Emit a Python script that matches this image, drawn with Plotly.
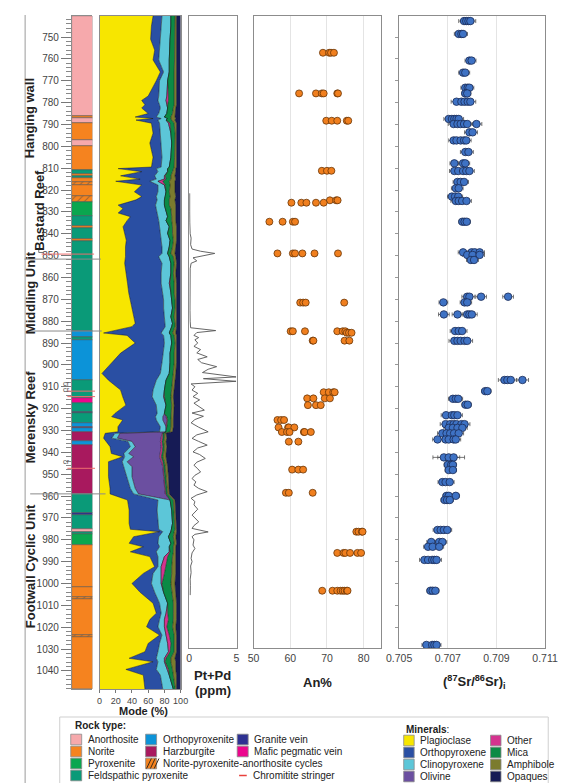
import plotly.graph_objects as go

W, H = 566, 783
def px(x): return x / W
def py(y): return 1 - y / H

FONT = "Liberation Sans, Arial, sans-serif"

# ---------------- Stratigraphic column ----------------
layer_top = [740.4, 786.0, 787.0, 789.4, 797.3, 799.7, 810.8, 812.5, 813.8, 814.5, 816.2, 817.8,
             822.8, 825.3, 831.9, 836.5, 837.3, 842.5, 843.5, 884.5, 887.2, 888.8, 906.9, 915.3,
             917.6, 921.4, 922.2, 926.7, 928.3, 929.0, 930.6, 934.7, 936.7, 959.0, 967.6, 968.6,
             975.1, 976.5, 977.4, 982.4, 1001.4, 1006.0, 1007.3, 1023.6, 1024.6]
layer_bot = [786.0, 787.0, 789.4, 797.3, 799.7, 810.8, 812.5, 813.8, 814.5, 816.2, 817.8, 822.8,
             825.3, 831.9, 836.5, 837.3, 842.5, 843.5, 884.5, 887.2, 888.8, 906.9, 915.3, 917.6,
             921.4, 922.2, 926.7, 928.3, 929.0, 930.6, 934.7, 936.7, 959.0, 967.6, 968.6, 975.1,
             976.5, 977.4, 982.4, 1001.4, 1006.0, 1007.3, 1023.6, 1024.6, 1048.3]
layer_type = ["Anorthosite", "Norite", "Anorthosite", "Norite", "Anorthosite", "Norite",
              "Feldspathic pyroxenite", "Norite", "Feldspathic pyroxenite", "Norite", "Cycles", "Norite",
              "Cycles", "Pyroxenite", "Feldspathic pyroxenite", "Norite", "Feldspathic pyroxenite", "Norite",
              "Feldspathic pyroxenite", "Orthopyroxenite", "Feldspathic pyroxenite", "Orthopyroxenite",
              "Feldspathic pyroxenite", "Mafic pegmatic vein", "Feldspathic pyroxenite", "Granite vein",
              "Feldspathic pyroxenite", "Orthopyroxenite", "Harzburgite", "Orthopyroxenite", "Harzburgite",
              "Orthopyroxenite", "Harzburgite", "Feldspathic pyroxenite", "Granite vein",
              "Feldspathic pyroxenite", "Anorthosite", "Feldspathic pyroxenite", "Pyroxenite", "Norite",
              "Norite", "Cycles", "Norite", "Cycles", "Norite"]
rock_colors = {"Anorthosite": "#F6A9AC", "Norite": "#F5831F", "Pyroxenite": "#0AA64F",
               "Feldspathic pyroxenite": "#0A9A78", "Orthopyroxenite": "#0C93D8",
               "Harzburgite": "#A8195E", "Granite vein": "#2E3192", "Mafic pegmatic vein": "#EC068D",
               "Cycles": "#F5831F"}

chromitite_depth = [849.3, 912.0, 914.5, 947.3]
unit_names = ["Hanging wall", "Bastard Reef", "Middling Unit", "Merensky Reef", "Footwall Cyclic Unit"]
unit_boundaries = [851.6, 884.5, 959.0]

# ---------------- Modal mineralogy ----------------
mode_depth = [740.4, 745, 751, 756, 760.5, 766, 770, 777, 779, 781, 782.5, 785, 786.6, 787.3, 788,
              789.4, 794, 798.5, 805, 809.5, 810.2, 811.6, 813.5, 815, 816, 817.7, 820.8, 823, 824.5,
              826.9, 828.5, 830.5, 832.2, 834, 836.8, 839.8, 843, 846, 849, 850.5, 853.5, 858, 862.6,
              867, 870.3, 874, 878, 881, 882.5, 885.4, 886.5, 890, 894.6, 899, 903.9, 907, 911.5,
              914.6, 918.4, 922.2, 923.7, 925.2, 928.3, 930.6, 931.3, 933.5, 935, 937.4, 940.5, 942,
              944.3, 946.6, 951.1, 956.5, 959, 961.8, 966.4, 972.5, 975.2, 976.3, 978.6, 981.6, 983.2,
              985.5, 987.7, 992.3, 995.4, 1000, 1004, 1009, 1013.6, 1016.5, 1019.8, 1023.6, 1027.4,
              1031.2, 1034.2, 1035.8, 1039.3, 1041.9, 1048.3]
plagioclase = [66, 64, 63, 68, 66, 75, 70, 60, 52, 56, 52, 60, 44, 66, 45, 64, 66, 62, 66, 64, 23, 52,
               26, 50, 20, 52, 43, 52, 45, 23, 29, 23, 38, 34, 29, 31, 33, 32, 32, 32, 31, 33, 34.5, 36,
               38, 40, 42, 44, 40, 5, 34, 44, 26, 15, 3, 11, 26, 28.6, 32.5, 19, 15, 28.6, 22.7, 22.7,
               7, 5, 8, 13, 14.6, 28.6, 11, 11, 11, 13, 13, 34.5, 36.5, 36.5, 38, 74, 42, 36.5, 54, 38,
               62, 68, 54, 40, 50, 66, 70, 62, 58, 74, 60, 56, 36.5, 66, 32.5, 54, 56]
orthopyroxene = [11, 12, 12, 6, 7, 4, 4, 13, 20, 18, 23, 13, 26, 10, 27, 10, 9, 14, 11, 12, 47, 20,
                 42, 20, 42, 20, 29, 18, 26, 46, 41, 48, 34, 39, 45, 44, 43, 45, 45, 41, 46, 43, 41.5,
                 42, 41, 39, 38, 37, 41, 71, 45, 36, 52, 62, 72, 59, 40, 36.4, 37.5, 52, 54, 41.4, 52.3,
                 51.3, 12, 10, 27, 25, 15.4, 2.4, 17, 19, 22, 25, 29, 37.5, 34.5, 35.5, 35, 4, 31, 35.5,
                 20, 32, 10, 4, 12, 24, 18, 8, 6, 12, 14, 3, 14, 16, 33.5, 6, 37.5, 21, 22]
clinopyroxene = [11, 12, 12, 12, 13, 7, 10, 10, 10, 9, 9, 10, 10, 8, 10, 11, 13, 13, 11, 10, 14, 12,
                 12, 10, 10, 8, 10, 11, 9, 11, 11, 12, 12, 9, 12, 9, 11, 9, 7, 13, 11, 12, 10, 10, 10,
                 11, 8, 9, 8, 10, 9, 9, 9, 10, 11, 12, 14, 14, 12, 9, 9, 8, 7, 8, 6, 7, 5, 6, 6, 11, 6,
                 10, 7, 6, 6, 15, 18, 18, 16, 10, 12, 16, 12, 16, 8, 4, 10, 12, 11, 10, 6, 6, 8, 5, 10,
                 13, 10, 8, 14, 11, 13]
olivine = [0] * 60 + [4, 5, 0, 0, 52, 54, 35, 32, 39, 32, 42, 38, 39, 37, 33] + [0] * 26
other = [0, 0, 0, 0, 0, 0, 0, 2, 3, 1, 0, 0, 0, 0, 0, 2, 0, 0, 0, 0, 0, 0, 1, 2, 6, 1, 0, 0, 0, 0, 0,
         0, 0, 0, 0, 0, 0, 0, 0, 0, 0, 0, 1, 0, 0, 0, 0, 0, 0, 0, 0, 0, 0, 0, 0, 0, 0, 1, 0, 0, 1, 1,
         1, 0, 1, 2, 2, 2, 2, 2, 2, 1, 1, 1, 1, 0, 0, 0, 0, 0, 0, 0, 0, 1, 4, 6, 4, 1, 0, 0, 2, 5, 3,
         4, 4, 2, 2, 1, 1, 0, 0]
mica = [5, 5, 6, 6.5, 6.5, 6, 8, 7, 7, 8, 7, 7, 8, 4, 7, 5, 5, 4, 4.5, 6, 7, 6, 7, 6, 8, 6, 4, 6, 6,
        6, 7, 6, 5, 7, 4, 6, 4, 4, 4, 5, 4, 3, 5, 4, 4, 3, 4, 3, 4, 4, 4, 4, 5, 5, 5, 8, 9, 8, 7, 8, 5,
        4, 5, 5, 2, 2, 2, 2, 2, 2, 2, 2, 2, 2, 2, 4, 3, 3, 4, 4, 6, 4, 5, 4, 6, 7, 9, 11, 10, 7, 7, 6,
        7, 6, 4, 5, 6, 7, 5, 5, 2.5]
amphibole = [2, 2, 2, 2.5, 2.5, 3, 3, 3, 3, 3, 3, 3, 5, 6, 4, 3, 2, 2, 2.5, 3, 3, 4, 5, 6, 7, 6, 7, 7,
             7, 8, 6, 5, 5, 5, 5, 5, 4, 4, 5, 3, 3, 3, 3, 3, 2, 2, 3, 2, 2, 4, 3, 2, 3, 3, 3, 3, 3, 3,
             3, 3, 3, 3, 3, 3, 2, 3, 3, 3, 3, 4, 3, 3, 3, 2, 2, 2, 2, 2, 2, 3, 3, 3, 3, 3, 4, 5, 5, 5,
             5, 4, 4, 4, 4, 3, 3, 3, 5, 6, 4, 4, 1.5]
opaques = [5, 5, 5, 5, 5, 5, 5, 5, 5, 5, 6, 7, 7, 6, 7, 5, 5, 5, 5, 5, 6, 6, 7, 6, 7, 7, 7, 6, 7, 6,
           6, 6, 6, 6, 5, 5, 5, 6, 7, 6, 5, 6, 5, 5, 5, 5, 5, 5, 5, 6, 5, 5, 5, 5, 6, 7, 8, 9, 8, 9, 9,
           9, 9, 10, 18, 17, 18, 17, 18, 18, 17, 16, 15, 14, 14, 7, 6, 5, 5, 5, 6, 5, 6, 6, 6, 6, 6, 7,
           6, 5, 5, 5, 6, 5, 5, 5, 7, 6, 6, 5, 5]
minerals = ["Plagioclase", "Orthopyroxene", "Clinopyroxene", "Olivine", "Other", "Mica", "Amphibole", "Opaques"]
mineral_values = [plagioclase, orthopyroxene, clinopyroxene, olivine, other, mica, amphibole, opaques]
mineral_colors = ["#F7E600", "#2A4FA3", "#5CC6D8", "#6B4FA0", "#D4338F", "#0B8A45", "#7B7B2E", "#161B55"]

# ---------------- Pt+Pd ----------------
ptpd_depth = [821.5, 826, 830, 835, 840, 842, 845, 847, 848, 849, 850, 851, 852.4, 853.5, 856, 860, 865,
              870, 875, 880, 883, 884.3, 885.2, 886.5, 887.5, 888.5, 890, 891.5, 893, 894.5, 896.3,
              897.5, 899, 900.8, 902, 903.5, 905.5, 906.3, 907.5, 908.7, 910, 911.5, 913, 914.5, 916,
              917.5, 919, 920.7, 922, 923.5, 925, 926.5, 928.5, 930.6, 932, 933.6, 935, 936.7, 938,
              939.8, 941, 942.8, 944.5, 945.9, 947.5, 949, 950.5, 952, 953.5, 955, 956.5, 958, 959.5,
              961, 962.5, 964, 966, 968.7, 970, 971.8, 973.5, 974.8, 976.4, 977.5, 978.6, 980, 982.4,
              984, 986, 988.5, 990, 992, 995, 998, 1001, 1003, 1005.3]
ptpd = [0.05, 0.08, 0.05, 0.06, 0.1, 0.2, 0.15, 0.3, 1.2, 2.7, 1.5, 0.4, 0.8, 0.2, 0.1, 0.08, 0.1,
        0.05, 0.08, 0.1, 0.15, 2.8, 0.8, 0.5, 1.0, 0.6, 0.9, 0.5, 1.2, 0.8, 1.9, 0.9, 1.3, 2.9, 2.0,
        1.4, 4.95, 1.5, 4.95, 0.2, 0.6, 0.3, 0.9, 0.4, 1.1, 0.5, 1.0, 1.6, 0.3, 1.5, 0.6, 0.2, 1.0,
        2.0, 0.8, 0.3, 1.0, 1.9, 0.9, 0.4, 1.1, 1.7, 0.8, 0.5, 0.9, 1.2, 0.6, 0.3, 0.7, 0.5, 1.0, 1.9,
        0.8, 0.2, 0.6, 0.5, 0.9, 0.3, 0.6, 1.0, 0.5, 0.3, 2.0, 0.6, 0.3, 0.5, 0.4, 0.6, 0.3, 0.2, 0.3,
        0.15, 0.2, 0.1, 0.12, 0.08, 0.1]

# ---------------- An% ----------------
an_group_depth = [757.2, 775.8, 788.3, 811.2, 824.7, 825.8, 834.5, 849.0, 871.5, 884.6, 885.3, 888.9,
                  912.5, 915.3, 918.4, 925.2, 928.6, 930.7, 935.1, 947.9, 958.5, 976.3, 986.0, 1003.3]
an_group_values = [[68.9, 70.6, 71.1, 71.9], [62.4, 67.0, 68.6, 69.1, 72.8, 73.0],
                   [69.8, 71.3, 72.8, 75.4, 75.8], [68.6, 70.0, 71.2], [70.8, 72.5, 72.9],
                   [60.3, 63.0, 64.4, 67.0, 69.1], [54.3, 57.9, 60.7, 61.3],
                   [56.5, 60.7, 61.3, 63.3, 66.6, 73.0], [62.7, 63.5, 64.2, 74.7],
                   [60.1, 60.7, 64.0, 72.8, 74.3, 75.0], [75.4, 76.0, 76.7], [66.1, 66.3, 74.8, 76.1],
                   [69.1, 70.5, 71.7, 72.1], [64.6, 66.3, 69.4, 70.8], [64.8, 67.0, 68.3],
                   [56.5, 57.5, 58.3], [56.8, 59.4, 59.6, 61.1], [57.7, 59.1, 59.8, 63.7, 63.9, 65.6],
                   [59.6, 62.2], [60.5, 62.2, 63.5], [58.8, 59.6, 66.1], [78.0, 78.6, 79.5, 79.7],
                   [72.8, 74.5, 75.0, 76.3, 78.3, 79.3], [68.7, 71.5, 72.8, 73.7, 74.3, 74.8, 75.4, 75.6]]

# ---------------- (87Sr/86Sr)i ----------------
sr_group_depth = [742.7, 748.6, 760.8, 766.3, 773.2, 775.8, 779.6, 787.5, 789.8, 793.6, 797.3, 802.6,
                  807.8, 811.3, 816.3, 819.2, 823.0, 825.0, 834.5, 848.5, 849.7, 852.0, 868.8, 871.4,
                  876.9, 884.5, 889.0, 906.9, 912.0, 915.5, 918.2, 923.0, 927.1, 928.8, 931.3, 934.1,
                  942.3, 945.7, 948.1, 953.6, 959.9, 961.8, 975.5, 981.0, 983.2, 989.2, 1003.3, 1028.1]
sr_group_values = [[0.70767, 0.70776, 0.70785, 0.70793], [0.70745, 0.70756, 0.70763], [0.70789, 0.70798],
                   [0.70763, 0.70772], [0.70772, 0.70782, 0.70789], [0.70772, 0.70780],
                   [0.70736, 0.70756, 0.70769, 0.70782, 0.70793],
                   [0.70704, 0.70717, 0.70727, 0.70736, 0.70745],
                   [0.70724, 0.70740, 0.70753, 0.70767, 0.70780, 0.70818], [0.70789, 0.70802],
                   [0.70724, 0.70736, 0.70753, 0.70767, 0.70776], [0.70772, 0.70785],
                   [0.70727, 0.70763, 0.70772], [0.70727, 0.70743, 0.70763, 0.70776, 0.70789],
                   [0.70740, 0.70753, 0.70767], [0.70733, 0.70745], [0.70717, 0.70730, 0.70743],
                   [0.70733, 0.70745, 0.70759, 0.70777], [0.70760, 0.70769, 0.70778],
                   [0.70763, 0.70798, 0.70811, 0.70831], [0.70780, 0.70802, 0.70831], [0.70795, 0.70808],
                   [0.70780, 0.70789, 0.70837, 0.70948], [0.70682, 0.70769, 0.70780],
                   [0.70684, 0.70740, 0.70780, 0.70789, 0.70799], [0.70730, 0.70745, 0.70759],
                   [0.70727, 0.70740, 0.70753, 0.70769, 0.70780], [0.70933, 0.70945, 0.70959, 0.71007],
                   [0.70854, 0.70863], [0.70721, 0.70733, 0.70743], [0.70773, 0.70782],
                   [0.70693, 0.70717, 0.70727, 0.70740],
                   [0.70691, 0.70710, 0.70724, 0.70736, 0.70756, 0.70769],
                   [0.70704, 0.70721, 0.70740, 0.70760], [0.70678, 0.70695, 0.70710, 0.70726, 0.70745],
                   [0.70658, 0.70691, 0.70704, 0.70724, 0.70733], [0.70684, 0.70704, 0.70724],
                   [0.70700, 0.70714, 0.70721], [0.70704, 0.70721], [0.70678, 0.70691, 0.70708],
                   [0.70695, 0.70704, 0.70733], [0.70687, 0.70697, 0.70708],
                   [0.70658, 0.70671, 0.70684, 0.70698], [0.70632, 0.70665, 0.70678],
                   [0.70619, 0.70638, 0.70665], [0.70604, 0.70619, 0.70636, 0.70645, 0.70654],
                   [0.70629, 0.70638, 0.70649], [0.70612, 0.70636, 0.70645, 0.70654]]
sr_group_err = [0.00022, 0.00018, 0.00018, 0.00018, 0.00018, 0.00015, 0.00022, 0.0002, 0.00022, 0.0002,
                0.0002, 0.0002, 0.00018, 0.0002, 0.00018, 0.00018, 0.00018, 0.0002, 0.00015, 0.0002,
                0.0002, 0.00018, 0.00022, 0.00018, 0.00022, 0.0002, 0.00022, 0.00025, 0.00015, 0.00018,
                0.00015, 0.0002, 0.00022, 0.0002, 0.0002, 0.0002, 0.00045, 0.00015, 0.00015, 0.00018,
                0.00015, 0.00015, 0.00018, 0.00018, 0.00018, 0.0002, 0.00015, 0.00018]

# ---------------- Build figure ----------------
fig = go.Figure()

# strat column
thick = [b - t for t, b in zip(layer_top, layer_bot)]
fig.add_trace(go.Bar(
    x=[0.5] * len(layer_top), y=thick, base=layer_top, width=1,
    marker=dict(color=[rock_colors[t] for t in layer_type],
                line=dict(color="#4a4a4a", width=0.5),
                pattern=dict(shape=["/" if t == "Cycles" else "" for t in layer_type],
                             fgcolor="#3a2a1a", bgcolor="#F5831F", size=5, solidity=0.2)),
    xaxis="x", yaxis="y", hoverinfo="skip"))

# mode stacked areas
cum = [0.0] * len(mode_depth)
for i, (name, vals, col) in enumerate(zip(minerals, mineral_values, mineral_colors)):
    cum = [c + v for c, v in zip(cum, vals)]
    fig.add_trace(go.Scatter(
        x=cum, y=mode_depth, mode="lines", name=name,
        fill="tozerox" if i == 0 else "tonextx", fillcolor=col,
        line=dict(color="#151515", width=0.5), xaxis="x2", yaxis="y2", hoverinfo="skip"))

# Pt+Pd
fig.add_trace(go.Scatter(x=ptpd, y=ptpd_depth, mode="lines",
                         line=dict(color="#555555", width=0.9), xaxis="x3", yaxis="y3"))

# An%
an_x, an_y = [], []
for d, vals in zip(an_group_depth, an_group_values):
    for v in vals:
        an_x.append(v); an_y.append(d)
fig.add_trace(go.Scatter(x=an_x, y=an_y, mode="markers",
                         marker=dict(size=7, color="#F07F1E", line=dict(color="#6a3608", width=0.8)),
                         xaxis="x4", yaxis="y4"))

# Sr
sr_x, sr_y, sr_e = [], [], []
for d, vals, e in zip(sr_group_depth, sr_group_values, sr_group_err):
    for v in vals:
        sr_x.append(v); sr_y.append(d); sr_e.append(e)
fig.add_trace(go.Scatter(x=sr_x, y=sr_y, mode="markers",
                         error_x=dict(type="data", array=sr_e, color="#555555", thickness=0.8, width=2),
                         marker=dict(size=7.5, color="#3E72C4", line=dict(color="#1b2b55", width=0.8)),
                         xaxis="x5", yaxis="y5"))

LINEC = "#8c8c8c"
left_dom = [py(689), py(16)]
right_dom = [py(648), py(16)]
left_rng = [1048.26, 740.39]
right_rng = [1029.5, 740.39]
tickf = dict(family=FONT, size=10.5, color="#444")

fig.update_layout(
    width=W, height=H, margin=dict(l=0, r=0, t=0, b=0),
    paper_bgcolor="white", plot_bgcolor="white", showlegend=False,
    font=dict(family=FONT, color="#222"),
    bargap=0,
    xaxis=dict(domain=[px(61.7), px(83.3)], range=[0, 1], showticklabels=False, ticks="",
               showgrid=False, zeroline=False, showline=True, mirror=True, linecolor=LINEC, anchor="y"),
    yaxis=dict(domain=left_dom, range=left_rng, tickmode="linear", tick0=750, dtick=10,
               ticks="outside", ticklen=10, tickcolor="#777", tickwidth=1,
               tickfont=dict(family=FONT, size=10, color="#444"),
               minor=dict(ticks="outside", ticklen=5, dtick=2, tickcolor="#888", tickwidth=0.8),
               showgrid=False, zeroline=False, showline=True, linecolor=LINEC, anchor="x"),
    xaxis2=dict(domain=[px(90.7), px(175.7)], range=[0, 100], tickvals=[0, 20, 40, 60, 80, 100],
                ticks="outside", ticklen=3, tickcolor="#777",
                tickfont=dict(family=FONT, size=9, color="#444"),
                showgrid=False, zeroline=False, showline=True, mirror=True, linecolor=LINEC, anchor="y2"),
    yaxis2=dict(domain=left_dom, range=left_rng, showticklabels=False, ticks="", showgrid=False,
                zeroline=False, showline=True, mirror=True, linecolor=LINEC, anchor="x2"),
    xaxis3=dict(domain=[px(184.7), px(234.3)], range=[0, 5], tickvals=[0, 5], ticks="",
                tickfont=tickf, showgrid=False, zeroline=False, showline=True, mirror=True,
                linecolor=LINEC, anchor="y3"),
    yaxis3=dict(domain=right_dom, range=right_rng, showticklabels=False, ticks="", showgrid=False,
                zeroline=False, showline=True, mirror=True, linecolor=LINEC, anchor="x3"),
    xaxis4=dict(domain=[px(252.2), px(386)], range=[50, 84.8], tickvals=[50, 60, 70, 80], ticks="",
                tickfont=tickf, showgrid=True, gridcolor="#e4e4e4", gridwidth=1, zeroline=False,
                showline=True, mirror=True, linecolor=LINEC, anchor="y4"),
    yaxis4=dict(domain=right_dom, range=right_rng, showticklabels=False, ticks="", showgrid=False,
                zeroline=False, showline=True, mirror=True, linecolor=LINEC, anchor="x4"),
    xaxis5=dict(domain=[px(404.7), px(557.7)], range=[0.705, 0.711],
                tickvals=[0.705, 0.707, 0.709, 0.711], ticktext=["0.705", "0.707", "0.709", "0.711"],
                ticks="", tickfont=tickf, showgrid=True, gridcolor="#e4e4e4", gridwidth=1,
                zeroline=False, showline=True, mirror=True, linecolor=LINEC, anchor="y5"),
    yaxis5=dict(domain=right_dom, range=right_rng, showticklabels=False, tickmode="linear",
                tick0=750, dtick=10, ticks="outside", ticklen=3, tickcolor="#999", showgrid=False,
                zeroline=False, showline=True, mirror=True, linecolor=LINEC, anchor="x5"),
)

shapes = []
annots = []

def ann(x, y, text, size=10, color="#222", xanchor="center", yanchor="middle", angle=0, **kw):
    annots.append(dict(x=px(x), y=py(y), xref="paper", yref="paper", text=text, showarrow=False,
                       xanchor=xanchor, yanchor=yanchor, textangle=angle,
                       font=dict(family=FONT, size=size, color=color), **kw))

def rect(x0, y0, x1, y1, fill, line="#8a8a8a", lw=0.8):
    shapes.append(dict(type="rect", xref="paper", yref="paper", x0=px(x0), x1=px(x1),
                       y0=py(y1), y1=py(y0), fillcolor=fill, line=dict(color=line, width=lw)))

def seg(x0, y0, x1, y1, color="#888", w=1):
    shapes.append(dict(type="line", xref="paper", yref="paper", x0=px(x0), x1=px(x1),
                       y0=py(y0), y1=py(y1), line=dict(color=color, width=w)))

# outer left frame line
seg(12.7, 15, 12.7, 783, color="#9a9a9a", w=1)

# unit boundaries (depth coords)
for d, (xa, xb) in zip(unit_boundaries, [(12, 92), (15, 93), (18, 97)]):
    shapes.append(dict(type="line", xref="paper", yref="y", x0=px(xa), x1=px(xb), y0=d, y1=d,
                       line=dict(color="#8a8a8a", width=1)))

# chromitite stringers
for d, (xa, xb) in zip(chromitite_depth, [(30, 85), (57, 86), (57, 86), (57, 86)]):
    shapes.append(dict(type="line", xref="paper", yref="y", x0=px(xa), x1=px(xb), y0=d, y1=d,
                       line=dict(color="#EE6F6F", width=1)))
for d in chromitite_depth[1:]:
    annots.append(dict(x=px(50), y=d - 0.3, xref="paper", yref="y", text="cr", showarrow=False,
                       xanchor="left", yanchor="bottom", font=dict(family=FONT, size=7.5, color="#555")))

# Bastard reef bracket
shapes.append(dict(type="path", xref="paper", yref="paper",
                   path=f"M {px(27)},{py(248)} L {px(27)},{py(252.5)} L {px(32)},{py(252.5)}",
                   line=dict(color="#777", width=1)))

# unit labels
for name, (x, y) in zip(unit_names, [(18, 118), (27, 210), (18, 293), (18, 417), (18, 566)]):
    ann(x, y, f"<b>{name}</b>", size=13, color="#222", angle=-90)

# panel titles
ann(209.5, 675, "<b>Pt+Pd</b>", size=13)
ann(209.5, 690, "<b>(ppm)</b>", size=13)
ann(319, 682, "<b>An%</b>", size=13)
ann(484, 682, "<b>(<sup>87</sup>Sr/<sup>86</sup>Sr)<sub>i</sub></b>", size=13)
ann(137, 711, "<b>Mode (%)</b>", size=11)

# legend box
shapes.append(dict(type="rect", xref="paper", yref="paper", x0=px(49), x1=px(561),
                   y0=-0.02, y1=py(717), fillcolor="rgba(0,0,0,0)", line=dict(color="#cfcfcf", width=1)))
ann(63, 725, "<b>Rock type:</b>", size=10, xanchor="left")
rock_rows = [739.5, 751.5, 763.5, 775.5]
rock_legend = [
    (60.5, "Anorthosite", rock_colors["Anorthosite"], 0), (60.5, "Norite", rock_colors["Norite"], 1),
    (60.5, "Pyroxenite", rock_colors["Pyroxenite"], 2),
    (60.5, "Feldspathic pyroxenite", rock_colors["Feldspathic pyroxenite"], 3),
    (139, "Orthopyroxenite", rock_colors["Orthopyroxenite"], 0),
    (139, "Harzburgite", rock_colors["Harzburgite"], 1),
    (139, "Norite-pyroxenite-anorthosite cycles", rock_colors["Norite"], 2),
    (235, "Granite vein", rock_colors["Granite vein"], 0),
    (235, "Mafic pegmatic vein", rock_colors["Mafic pegmatic vein"], 1),
]
for x0, label, col, r in rock_legend:
    yc = rock_rows[r]
    rect(x0, yc - 5.3, x0 + 11.5, yc + 5.3, col)
    if label.startswith("Norite-"):
        for k in range(3):
            xa = x0 + 1 + k * 4
            seg(xa, yc + 5, xa + 5, yc - 5, color="#3a2a1a", w=1)
    ann(x0 + 16, yc, label, size=10, xanchor="left")
seg(237, rock_rows[3], 245, rock_rows[3], color="#E8413C", w=1.5)
ann(249, rock_rows[3], "Chromitite stringer", size=10, xanchor="left")

ann(409.5, 729, "<b>Minerals</b>:", size=10, xanchor="left")
min_rows = [740.5, 752.5, 764.5, 776.5]
for i, (name, col) in enumerate(zip(minerals, mineral_colors)):
    x0 = 409.5 if i < 4 else 500.5
    yc = min_rows[i % 4]
    rect(x0, yc - 5.3, x0 + 11, yc + 5.3, col)
    ann(x0 + 15, yc, name, size=10, xanchor="left")

fig.update_layout(shapes=shapes, annotations=annots)
fig.write_html("out.html",
               config={"displayModeBar": False},
               post_script="document.body.style.margin='0px';"
                           "document.body.style.padding='0px';"
                           "document.documentElement.style.overflow='hidden';"
                           "document.body.style.overflow='hidden';")
